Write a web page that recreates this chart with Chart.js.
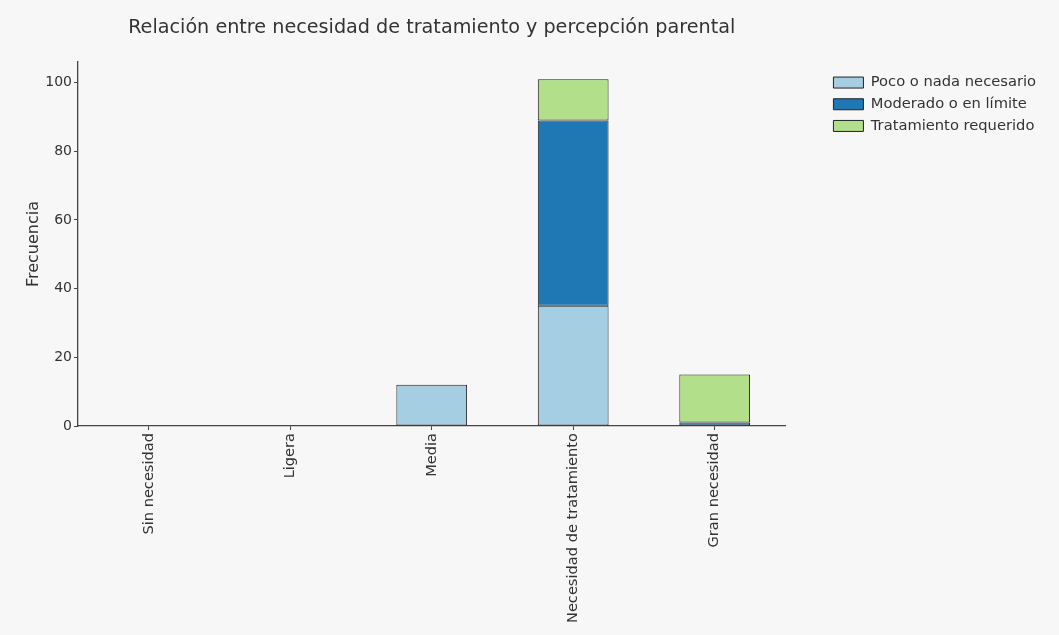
<!DOCTYPE html>
<html>
<head>
<meta charset="utf-8">
<script src="https://cdn.jsdelivr.net/npm/chart.js@4/dist/chart.umd.min.js"></script>
<style>
  body { margin: 0; background: #ffffff; }
  #wrap { width: 1059px; height: 635px; }
</style>
</head>
<body>
<div id="wrap"><canvas id="myChart"></canvas></div>
<script>
// categorias y frecuencias
const categorias = ['Sin necesidad', 'Ligera', 'Media', 'Necesidad de tratamiento', 'Gran necesidad'];
const poco_nada = [0, 0, 12, 35, 0];
const moderado = [0, 0, 0, 54, 1];
const requerido = [0, 0, 0, 12, 14];
const y_ticks = [0, 20, 40, 60, 80, 100];

const fuente = "'DejaVu Sans', sans-serif";

// fondo gris claro como en la figura original
const fondo = {
    id: 'fondo',
    beforeDraw(chart) {
        const ctx = chart.ctx;
        ctx.save();
        ctx.fillStyle = '#f7f7f7';
        ctx.fillRect(0, 0, chart.width, chart.height);
        ctx.restore();
    }
};

function serie(label, data, color) {
    return {
        label: label,
        data: data,
        backgroundColor: color,
        borderColor: '#222222',
        borderWidth: 1,
        borderSkipped: false,
        categoryPercentage: 1.0,
        barPercentage: 0.5
    };
}

const ctx = document.getElementById('myChart').getContext('2d');
const myChart = new Chart(ctx, {
    type: 'bar',
    data: {
        labels: categorias,
        datasets: [
            serie('Poco o nada necesario', poco_nada, '#a6cee3'),
            serie('Moderado o en límite', moderado, '#1f78b4'),
            serie('Tratamiento requerido', requerido, '#b2df8a')
        ]
    },
    plugins: [fondo],
    options: {
        responsive: true,
        maintainAspectRatio: false,
        animation: false,
        layout: { padding: { top: 10, left: 20, right: 13, bottom: 0 } },
        plugins: {
            title: {
                display: true,
                fullSize: false,
                text: 'Relación entre necesidad de tratamiento y percepción parental',
                color: '#333',
                font: { family: fuente, size: 19.2, weight: 'normal' },
                padding: { top: 6, bottom: 23 }
            },
            legend: {
                position: 'right',
                align: 'start',
                maxWidth: 260,
                title: { display: true, text: '', font: { size: 1 }, padding: { top: 0, bottom: 57 } },
                labels: {
                    boxWidth: 30,
                    boxHeight: 11,
                    padding: 7,
                    color: '#333',
                    font: { family: fuente, size: 14.7 }
                }
            },
            tooltip: { enabled: false }
        },
        scales: {
            x: {
                stacked: true,
                offset: true,
                grid: { offset: false, drawOnChartArea: false, drawTicks: true, tickLength: 4, color: '#444' },
                border: { display: true, color: '#444', width: 1.3 },
                ticks: {
                    minRotation: 90,
                    maxRotation: 90,
                    color: '#333',
                    padding: 3,
                    font: { family: fuente, size: 14.6 }
                },
                afterFit: s => { s.height = 209; }
            },
            y: {
                stacked: true,
                min: 0,
                max: 106,
                afterBuildTicks: s => { s.ticks = y_ticks.map(v => ({ value: v })); },
                grid: { drawOnChartArea: false, drawTicks: true, tickLength: 4, color: '#444' },
                border: { display: true, color: '#444', width: 1.3 },
                ticks: { color: '#333', padding: 2, font: { family: fuente, size: 14 } },
                title: {
                    display: true,
                    text: 'Frecuencia',
                    color: '#333',
                    font: { family: fuente, size: 16 },
                    padding: 4
                },
                afterFit: s => { s.width = 58; }
            },
            // eje vacio para dejar el hueco entre el grafico y la leyenda
            hueco: {
                type: 'linear',
                position: 'right',
                display: true,
                grid: { display: false },
                border: { display: false },
                ticks: { display: false },
                afterFit: s => { s.width = 41; }
            }
        }
    }
});
</script>
</body>
</html>
